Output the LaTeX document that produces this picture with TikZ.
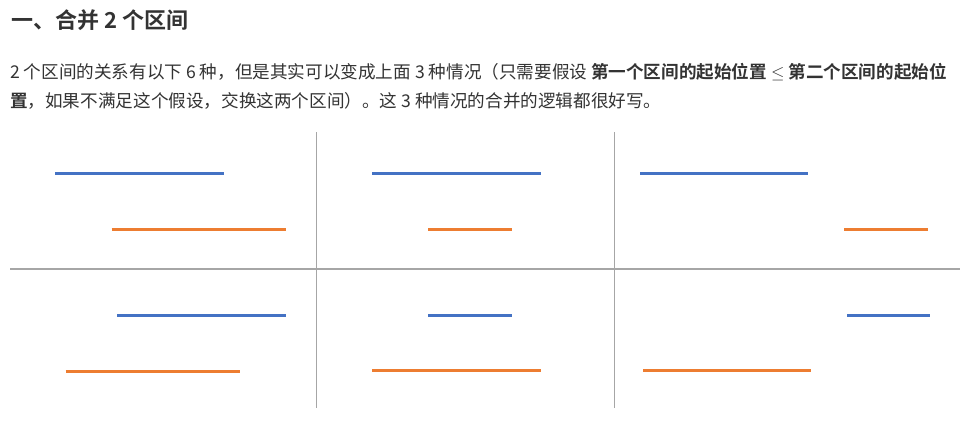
\documentclass[tikz,border=0pt]{standalone}
\usepackage{fontspec}
\usepackage{amsmath, amssymb}
\newfontfamily\cjk{Noto Sans CJK SC}[BoldFont={Noto Sans CJK SC Bold}]
\definecolor{ivblue}{HTML}{4472C4}
\definecolor{ivorange}{HTML}{ED7D31}
\definecolor{gridgray}{HTML}{A6A6A6}
\definecolor{txtgray}{HTML}{333333}
\tikzset{
    gridline/.style={draw=gridgray, line width=1.3pt},
    first/.style={draw=ivblue, line width=2.8pt},
    second/.style={draw=ivorange, line width=2.8pt},
    bodytext/.style={anchor=base west, inner sep=0pt, text=txtgray, font=\cjk\fontsize{17.6}{21}\selectfont}
}

\begin{document}
\begin{tikzpicture}[x=1pt, y=-1pt]
    \useasboundingbox (0,0) rectangle (972,423);

    % Title and text
    \node[anchor=base west, inner sep=0pt, text=txtgray, font=\cjk\bfseries\fontsize{22}{26}\selectfont] (title) at (11,28) {一、合并 2 个区间};
    \node[bodytext] (line1) at (10,78) {2 个区间的关系有以下 6 种，但是其实可以变成上面 3 种情况（只需要假设 \textbf{第一个区间的起始位置} $\leq$ \textbf{第二个区间的起始位}};
    \node[bodytext] (line2) at (10,107) {\textbf{置}，如果不满足这个假设，交换这两个区间）。这 3 种情况的合并的逻辑都很好写。};

    % Draw grid
    \draw[gridline] (10,269) -- (960,269);
    \draw[gridline] (316.5,132) -- (316.5,408);
    \draw[gridline] (614.5,132) -- (614.5,408);

    % Upper row
    \draw[first] (55,173.5) -- (224,173.5);
    \draw[second] (111.5,229.5) -- (286,229.5);
    \draw[first] (372,173.5) -- (541,173.5);
    \draw[second] (428,229.5) -- (512,229.5);
    \draw[first] (640,173.5) -- (808,173.5);
    \draw[second] (844,229.5) -- (928,229.5);

    % Lower row
    \draw[first] (117,315.5) -- (286,315.5);
    \draw[second] (65.5,371.5) -- (239.5,371.5);
    \draw[first] (428,315.5) -- (512,315.5);
    \draw[second] (372,370.5) -- (541,370.5);
    \draw[first] (847,315.5) -- (930,315.5);
    \draw[second] (643,370.5) -- (811,370.5);
\end{tikzpicture}
\end{document}
